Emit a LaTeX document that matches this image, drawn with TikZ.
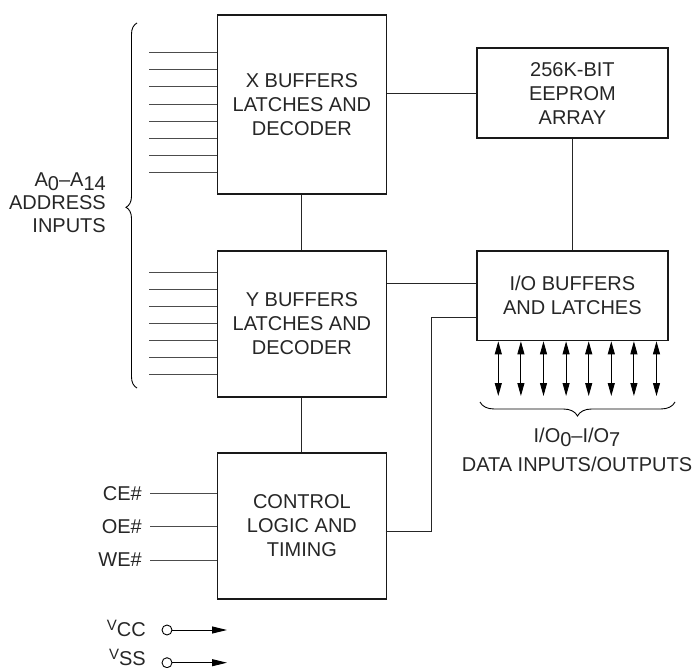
\documentclass[tikz,border=0pt]{standalone}
\usepackage{fontspec}
\setmainfont{Liberation Sans}
\usetikzlibrary{decorations.pathreplacing,arrows.meta}
\begin{document}
\begin{tikzpicture}[x=1pt,y=-1pt,
  blk/.style={draw=black!90,line width=1.8pt,anchor=north west,inner sep=0pt,
    align=center,font=\fontsize{20}{24}\selectfont,text=black!85},
  wire/.style={line width=0.9pt,draw=black!85},
  inwire/.style={line width=0.9pt,draw=black!70},
  lbl/.style={font=\fontsize{20}{24}\selectfont,text=black!85,inner sep=0pt},
  bidir/.style={line width=0.9pt,{Triangle[length=13pt,width=7pt]}-{Triangle[length=13pt,width=7pt]}},
  pwr/.style={line width=0.9pt,-{Triangle[length=15pt,width=7pt]}},
  brc/.style={line width=0.9pt,decorate}
]
\useasboundingbox (0,0) rectangle (696,668);
\newcommand{\dn}[1]{\raisebox{-4pt}{#1}}

\node[blk,minimum width=169pt,minimum height=179pt] (xb) at (216.5,14) {X BUFFERS\\LATCHES AND\\DECODER};
\node[blk,minimum width=191pt,minimum height=89.5pt] (eep) at (476,47.5) {256K-BIT\\EEPROM\\ARRAY};
\node[blk,minimum width=169pt,minimum height=146pt] (yb) at (216.5,250) {Y BUFFERS\\LATCHES AND\\DECODER};
\node[blk,minimum width=191pt,minimum height=89.5pt] (io) at (476,250) {I/O BUFFERS\\AND LATCHES};
\node[blk,minimum width=169pt,minimum height=146pt] (ctl) at (216.5,452) {CONTROL\\LOGIC AND\\TIMING};

% connectors
\draw[wire] (eep.west) -- (eep.west -| xb.east);
\draw[wire] (xb.south) -- (yb.north);
\draw[wire] (eep.south) -- (eep.south |- io.north);
\draw[wire] (yb.south) -- (ctl.north);
\coordinate (ioA) at (476,283.5);
\draw[wire] (ioA -| yb.east) -- (ioA);
\coordinate (ioB) at (476,317.5);
\coordinate (ctlB) at (385.5,531);
\draw[wire] (ctlB) -- (431,531) -- (431,317.5) -- (ioB);

% address input lines
\foreach \y [count=\i] in {52.7,69.8,86.9,104,121.1,138.2,155.3,172.4}{
  \coordinate (ax\i) at (149,\y);
  \draw[inwire] (ax\i) -- (ax\i -| xb.west);
}
\foreach \y [count=\i] in {272.3,289.4,306.5,323.6,340.7,357.8,374.9}{
  \coordinate (ay\i) at (149,\y);
  \draw[inwire] (ay\i) -- (ay\i -| yb.west);
}
\coordinate (brT) at (137,23);
\coordinate (brB) at (137,388);
\draw[brc,decoration={brace,amplitude=11pt,aspect=0.505,mirror}] (brT) -- (brB);
\node[lbl,anchor=east,align=right] (addr) at (106,202.5) {A\dn{0}–A\dn{14}\\[-1pt]ADDRESS\\[-1pt]INPUTS};

% control inputs
\foreach \y/\t [count=\i] in {493.3/CE\#,526.7/OE\#,560/WE\#}{
  \coordinate (c\i) at (150,\y);
  \draw[inwire] (c\i) -- (c\i -| ctl.west);
  \node[lbl,anchor=east] (cl\i) at (142,\y) {\t};
}

% data I/O arrows
\foreach \x [count=\i] in {498.3,520.9,543.5,566.1,588.7,611.3,633.9,656.5}{
  \coordinate (d\i) at (\x,396);
  \draw[bidir] (d\i) -- (d\i |- io.south);
}
\coordinate (bl) at (480,402);
\coordinate (br) at (675,402);
\draw[brc,decoration={brace,amplitude=14pt,mirror}] (bl) -- (br);
\node[lbl] (iol) at (577,437) {I/O\dn{0}–I/O\dn{7}};
\node[lbl] (datal) at (577,464) {DATA INPUTS/OUTPUTS};

% power
\node[lbl,anchor=base east] (vcc) at (146,636) {\raisebox{6pt}{\fontsize{15}{15}\selectfont V}CC};
\node[lbl,anchor=base east] (vss) at (146,665) {\raisebox{6pt}{\fontsize{15}{15}\selectfont V}SS};
\node[draw,circle,line width=0.9pt,minimum size=10pt,inner sep=0pt] (vcco) at (167,630) {};
\node[draw,circle,line width=0.9pt,minimum size=10pt,inner sep=0pt] (vsso) at (167,662.7) {};
\coordinate (vcce) at (227,630);
\coordinate (vsse) at (227,662.7);
\draw[pwr] (vcco) -- (vcce);
\draw[pwr] (vsso) -- (vsse);
\end{tikzpicture}
\end{document}
